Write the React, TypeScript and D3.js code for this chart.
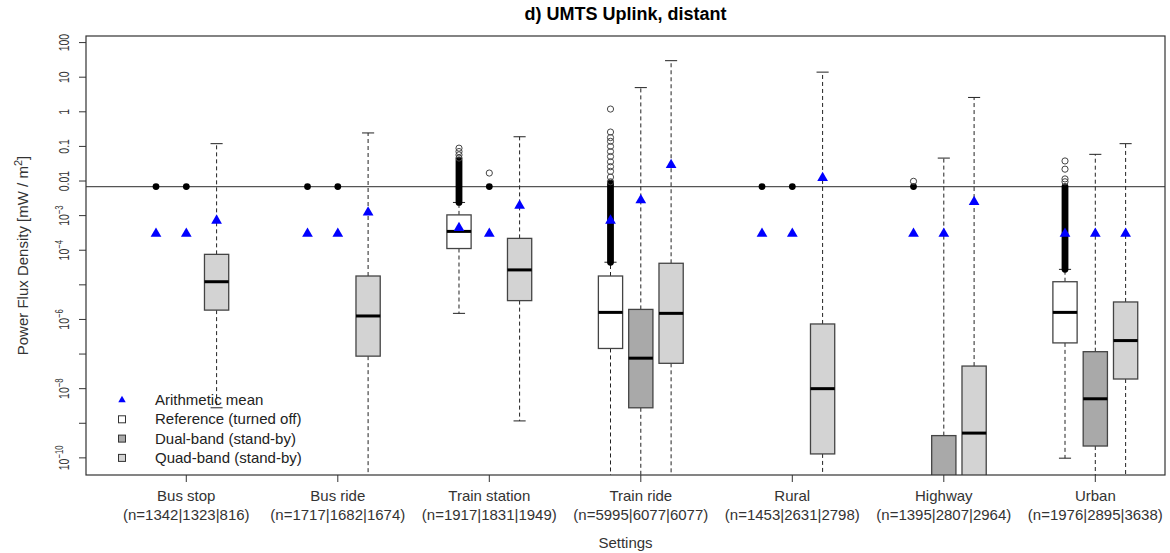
import React, { useEffect, useRef } from 'react';
import * as d3 from 'd3';

// settings along the x axis
const settings = ['Bus stop', 'Bus ride', 'Train station', 'Train ride', 'Rural', 'Highway', 'Urban'];

// sample sizes per setting: reference | dual-band | quad-band
const sampleSizes = [
  [1342, 1323, 816],
  [1717, 1682, 1674],
  [1917, 1831, 1949],
  [5995, 6077, 6077],
  [1453, 2631, 2798],
  [1395, 2807, 2964],
  [1976, 2895, 3638],
];

const devices = ['Reference (turned off)', 'Dual-band (stand-by)', 'Quad-band (stand-by)'];

// horizontal reference line (mW/m²)
const detectionLimit = 0.0069;

// box stats per setting: [lower whisker, q1, median, q3, upper whisker] in mW/m²
const referenceBoxes = [
  [0.0069, 0.0069, 0.0069, 0.0069, 0.0069],
  [0.0069, 0.0069, 0.0069, 0.0069, 0.0069],
  [1.5e-6, 1.12e-4, 3.5e-4, 1.05e-3, 2.4e-3],
  [1e-12, 1.45e-7, 1.6e-6, 1.8e-5, 4.5e-5],
  [0.0069, 0.0069, 0.0069, 0.0069, 0.0069],
  [0.0069, 0.0069, 0.0069, 0.0069, 0.0069],
  [9.8e-11, 2.1e-7, 1.6e-6, 1.23e-5, 2.8e-5],
];
const dualBandBoxes = [
  [0.0069, 0.0069, 0.0069, 0.0069, 0.0069],
  [0.0069, 0.0069, 0.0069, 0.0069, 0.0069],
  [0.0069, 0.0069, 0.0069, 0.0069, 0.0069],
  [1e-12, 2.8e-9, 7.6e-8, 1.95e-6, 5.0],
  [0.0069, 0.0069, 0.0069, 0.0069, 0.0069],
  [1e-13, 1e-12, 3e-12, 4.4e-10, 0.046],
  [1e-12, 2.2e-10, 5.1e-9, 1.17e-7, 0.059],
];
const quadBandBoxes = [
  [2.8e-9, 1.86e-6, 1.23e-5, 7.6e-5, 0.12],
  [1e-12, 8.7e-8, 1.26e-6, 1.8e-5, 0.245],
  [1.17e-9, 3.5e-6, 2.7e-5, 2.2e-4, 0.19],
  [1e-12, 5.4e-8, 1.5e-6, 4.2e-5, 30],
  [1e-12, 1.3e-10, 1e-8, 7.4e-7, 14],
  [1e-13, 1e-11, 5.2e-10, 4.5e-8, 2.6],
  [1e-12, 1.9e-8, 2.45e-7, 3.2e-6, 0.12],
];

// arithmetic means
const referenceMeans = [3e-4, 3e-4, 4.4e-4, 7.2e-4, 3e-4, 3e-4, 3e-4];
const dualBandMeans = [3e-4, 3e-4, 3e-4, 2.8e-3, 3e-4, 3e-4, 3e-4];
const quadBandMeans = [7.2e-4, 1.23e-3, 1.95e-3, 0.029, 0.0123, 2.5e-3, 3e-4];

// dense runs of outliers (overlapping circles), [from, to]
const referenceOutlierRuns = [null, null, [2.4e-3, 0.041], [4.5e-5, 8.7e-3], null, null, [2.8e-5, 6.9e-3]];

// single outliers
const referenceOutliers = [
  [],
  [],
  [0.046, 0.057, 0.071, 0.089],
  [0.0095, 0.013, 0.019, 0.026, 0.036, 0.051, 0.071, 0.1, 0.14, 0.18, 0.26, 1.2],
  [],
  [0.0098],
  [0.0095, 0.0115, 0.022, 0.038],
];
const dualBandOutliers = [[], [], [0.017], [], [], [], []];
const quadBandOutliers = [[], [], [], [], [], [], []];

// y axis ticks
const yTickValues = [100, 10, 1, 0.1, 0.01, 1e-3, 1e-4, 1e-5, 1e-6, 1e-7, 1e-8, 1e-9, 1e-10];
const yTickLabels = ['100', '10', '1', '0.1', '0.01', '10^-3', '10^-4', '', '10^-6', '', '10^-8', '', '10^-10'];

const width = 1170;
const height = 553;
const margin = { top: 36, right: 5, bottom: 78, left: 86 };
const font = '"Liberation Sans", Arial, sans-serif';

export default function App() {
  const node = useRef<SVGSVGElement>(null);

  useEffect(() => {
    document.body.style.margin = '0';
    const svg = d3.select(node.current);
    svg.selectAll('*').remove();

    const left = margin.left;
    const right = width - margin.right;
    const top = margin.top;
    const bottom = height - margin.bottom;

    // box positions: 3 per setting, 2 empty slots between settings
    const x = d3.scaleLinear().domain([-1.31, 34.3]).range([left, right]);
    const y = d3.scaleLog().domain([3.2e-11, 155]).range([bottom, top]);
    const pos = (g, d) => g * 5 + d + 1;
    const bw = (x(1.8) - x(1));

    svg.append('defs').append('clipPath').attr('id', 'plot-clip')
      .append('rect').attr('x', left).attr('y', top).attr('width', right - left).attr('height', bottom - top);

    const plot = svg.append('g').attr('clip-path', 'url(#plot-clip)');

    // reference line
    plot.append('line')
      .attr('x1', left).attr('x2', right)
      .attr('y1', y(detectionLimit)).attr('y2', y(detectionLimit))
      .attr('stroke', '#555').attr('stroke-width', 1.2);

    const series = [
      { boxes: referenceBoxes, means: referenceMeans, outliers: referenceOutliers, runs: referenceOutlierRuns, fill: '#ffffff' },
      { boxes: dualBandBoxes, means: dualBandMeans, outliers: dualBandOutliers, runs: [], fill: '#a9a9a9' },
      { boxes: quadBandBoxes, means: quadBandMeans, outliers: quadBandOutliers, runs: [], fill: '#d3d3d3' },
    ];

    // boxes, whiskers and outliers
    series.forEach((s, d) => {
      s.boxes.forEach((b, g) => {
        const cx = x(pos(g, d));
        const [lo, q1, med, q3, hi] = b;

        if (q1 === q3) {
          plot.append('circle').attr('cx', cx).attr('cy', y(med)).attr('r', 3.4).attr('fill', '#000');
        } else {
          const wg = plot.append('g').attr('stroke', '#222').attr('stroke-width', 1);
          wg.append('line').attr('x1', cx).attr('x2', cx).attr('y1', y(q3)).attr('y2', y(hi)).attr('stroke-dasharray', '4,3');
          wg.append('line').attr('x1', cx).attr('x2', cx).attr('y1', y(q1)).attr('y2', y(lo)).attr('stroke-dasharray', '4,3');
          wg.append('line').attr('x1', cx - bw / 4).attr('x2', cx + bw / 4).attr('y1', y(hi)).attr('y2', y(hi));
          wg.append('line').attr('x1', cx - bw / 4).attr('x2', cx + bw / 4).attr('y1', y(lo)).attr('y2', y(lo));

          plot.append('rect')
            .attr('x', cx - bw / 2).attr('width', bw)
            .attr('y', y(q3)).attr('height', y(q1) - y(q3))
            .attr('fill', s.fill).attr('stroke', '#444').attr('stroke-width', 1.3);

          plot.append('line')
            .attr('x1', cx - bw / 2).attr('x2', cx + bw / 2)
            .attr('y1', y(med)).attr('y2', y(med))
            .attr('stroke', '#000').attr('stroke-width', 3);
        }

        const run = s.runs[g];
        if (run) {
          plot.append('rect')
            .attr('x', cx - 3.4).attr('width', 6.8)
            .attr('y', y(run[1]) - 3.4).attr('height', y(run[0]) - y(run[1]) + 6.8)
            .attr('rx', 3.4)
            .attr('fill', '#000');
        }

        plot.selectAll(null)
          .data(s.outliers[g])
          .enter().append('circle')
          .attr('cx', cx).attr('cy', v => y(v)).attr('r', 3.1)
          .attr('fill', 'none').attr('stroke', '#444').attr('stroke-width', 1);
      });
    });

    // arithmetic means on top
    const tri = d3.symbol().type(d3.symbolTriangle).size(50);
    series.forEach((s, d) => {
      plot.selectAll(null)
        .data(s.means)
        .enter().append('path')
        .attr('d', tri)
        .attr('transform', (v, g) => 'translate(' + x(pos(g, d)) + ',' + y(v) + ')')
        .attr('fill', '#0000ff');
    });

    // frame
    svg.append('rect')
      .attr('x', left).attr('y', top).attr('width', right - left).attr('height', bottom - top)
      .attr('fill', 'none').attr('stroke', '#333').attr('stroke-width', 1.2);

    // y axis
    const yAxis = svg.append('g').attr('font-family', font).attr('fill', '#333');
    yTickValues.forEach((v, i) => {
      yAxis.append('line')
        .attr('x1', left - 7).attr('x2', left)
        .attr('y1', y(v)).attr('y2', y(v))
        .attr('stroke', '#333');
      const label = yTickLabels[i];
      if (!label) return;
      const t = yAxis.append('text')
        .attr('transform', 'translate(68.5,' + y(v) + ') rotate(-90) scale(0.7,1)')
        .attr('text-anchor', 'middle')
        .attr('font-size', 15);
      if (label.startsWith('10^')) {
        t.append('tspan').text('10');
        t.append('tspan').attr('dy', -6).attr('font-size', 11).text(label.slice(3).replace('-', '\u2212'));
      } else {
        t.text(label);
      }
    });

    const yl = svg.append('text')
      .attr('transform', 'translate(28,' + (top + bottom) / 2 + ') rotate(-90)')
      .attr('text-anchor', 'middle')
      .attr('font-family', font).attr('font-size', 15).attr('fill', '#333');
    yl.append('tspan').text('Power Flux Density [mW / m');
    yl.append('tspan').attr('dy', -6).attr('font-size', 11).text('2');
    yl.append('tspan').attr('dy', 6).text(']');

    // x axis
    const xAxis = svg.append('g').attr('font-family', font).attr('font-size', 15).attr('fill', '#333');
    settings.forEach((name, g) => {
      const cx = x(pos(g, 1));
      xAxis.append('line')
        .attr('x1', cx).attr('x2', cx).attr('y1', bottom).attr('y2', bottom + 7)
        .attr('stroke', '#333');
      xAxis.append('text').attr('x', cx).attr('y', 501).attr('text-anchor', 'middle').text(name);
      xAxis.append('text').attr('x', cx).attr('y', 520).attr('text-anchor', 'middle')
        .text('(n=' + sampleSizes[g].join('|') + ')');
    });

    svg.append('text')
      .attr('x', (left + right) / 2).attr('y', 548)
      .attr('text-anchor', 'middle')
      .attr('font-family', font).attr('font-size', 15).attr('fill', '#333')
      .text('Settings');

    // title
    svg.append('text')
      .attr('x', (left + right) / 2).attr('y', 20)
      .attr('text-anchor', 'middle')
      .attr('font-family', font).attr('font-size', 18).attr('font-weight', 'bold').attr('fill', '#000')
      .text('d) UMTS Uplink, distant');

    // legend
    const legend = svg.append('g').attr('font-family', font).attr('font-size', 15).attr('fill', '#222');
    const rows = [{ label: 'Arithmetic mean', fill: null }].concat(
      devices.map((dv, i) => ({ label: dv, fill: series[i].fill }))
    );
    rows.forEach((r, i) => {
      const cy = 400 + i * 19.3;
      if (r.fill === null) {
        legend.append('path')
          .attr('d', d3.symbol().type(d3.symbolTriangle).size(24))
          .attr('transform', 'translate(122,' + cy + ')')
          .attr('fill', '#0000ff');
      } else {
        legend.append('rect')
          .attr('x', 118.5).attr('y', cy - 3.5).attr('width', 7).attr('height', 7)
          .attr('fill', r.fill).attr('stroke', '#333');
      }
      legend.append('text').attr('x', 155).attr('y', cy + 5).text(r.label);
    });
  }, []);

  return <svg ref={node} width={width} height={height} style={{ display: 'block', background: '#fff' }} />;
}
